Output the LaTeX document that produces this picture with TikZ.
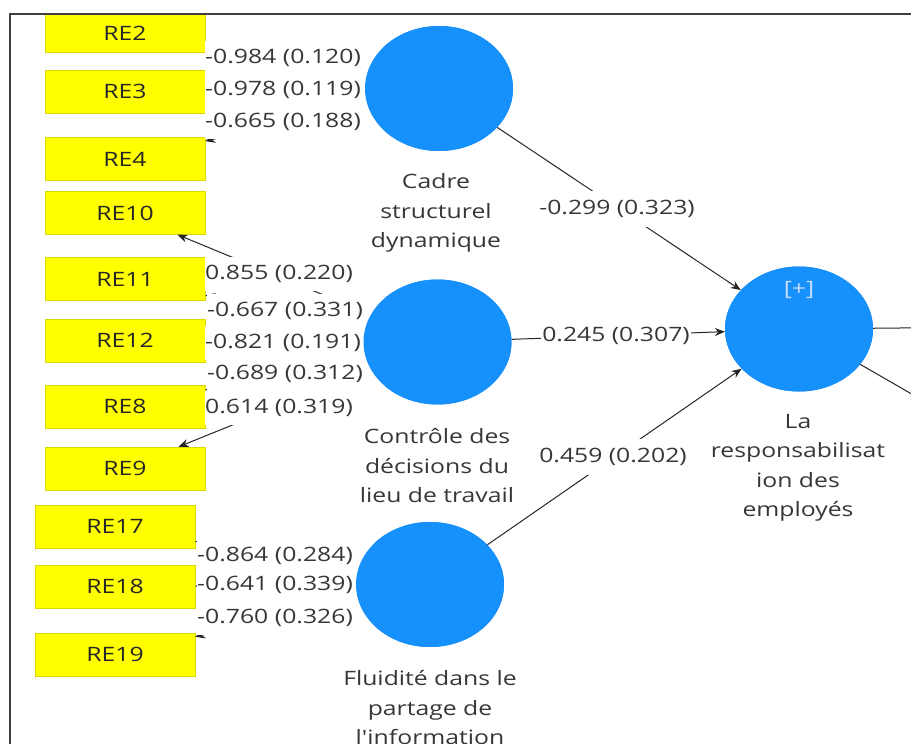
\documentclass[tikz,border=0pt]{standalone}
\usepackage{fontspec}
\setmainfont{Open Sans}[FakeStretch=1.25, Ligatures=TeXOff]
\usetikzlibrary{shapes.geometric,arrows.meta}
\definecolor{lvblue}{RGB}{22,144,250}
\definecolor{txt}{RGB}{55,55,55}
\definecolor{ybox}{RGB}{255,255,0}
\definecolor{plus}{RGB}{200,220,255}
\begin{document}
\begin{tikzpicture}[x=1pt,y=-1pt,
 every node/.style={font=\fontsize{19.8}{29.5}\selectfont},
 ind/.style={rectangle, fill=ybox, draw=ybox!85!black, line width=0.4pt, minimum width=160pt, minimum height=43pt, inner sep=0pt, text=black!85},
 lat/.style={ellipse, fill=lvblue, inner sep=0pt, minimum width=148pt, minimum height=125pt},
 ld/.style={fill=white, text=txt, inner xsep=0pt, inner ysep=8pt, anchor=west, text width=178pt, align=left},
 pl/.style={fill=white, text=txt, inner xsep=1pt, inner ysep=9pt},
 captxt/.style={text=txt, align=center},
 conn/.style={draw=black!85, line width=1pt, -{Stealth[length=10pt,width=8pt]}},
 frameline/.style={draw=black!75, line width=1.2pt},
]
\clip (0,0) rectangle (911,744);
\fill[white] (0,0) rectangle (911,744);
% indicators
\node[ind, minimum height=38pt] (re2) at (125,33) {RE2};
\node[ind] (re3) at (125,91.5) {RE3};
\node[ind] (re4) at (125,159) {RE4};
\node[ind] (re10) at (125,213) {RE10};
\node[ind] (re11) at (125,279) {RE11};
\node[ind] (re12) at (125,340.5) {RE12};
\node[ind] (re8) at (125,406.5) {RE8};
\node[ind] (re9) at (125,468.5) {RE9};
\node[ind] (re17) at (115,526.5) {RE17};
\node[ind] (re18) at (115,586.5) {RE18};
\node[ind] (re19) at (115,654.5) {RE19};
% latent variables (placed first for naming; drawn on top later)
\path (439,88.5) coordinate (pcds) (437.5,342) coordinate (pcdl) (430,584.5) coordinate (pfl) (799,329) coordinate (pre);
\node[lat] (cds) at (pcds) {};
\node[lat] (cdl) at (pcdl) {};
\node[lat] (fl) at (pfl) {};
\node[lat] (rsp) at (pre) {};
% outer connectors
\draw[conn] (cds) -- (re2);
\draw[conn] (cds) -- (re3);
\draw[conn] (cds) -- (re4);
\draw[conn] (cdl) -- (re10);
\draw[conn] (cdl) -- (re11);
\draw[conn] (cdl) -- (re12);
\draw[conn] (cdl) -- (re8);
\draw[conn] (cdl) -- (re9);
\draw[conn] (fl) -- (re17);
\draw[conn] (fl) -- (re18);
\draw[conn] (fl) -- (re19);
% inner connectors
\draw[conn] (cds) -- (rsp);
\draw[conn] (cdl) -- (rsp);
\draw[conn] (fl) -- (rsp);
\coordinate (out1) at (1000,327);
\coordinate (out2) at (1000,445);
\draw[draw=black!85, line width=1pt] (rsp) -- (out1);
\draw[draw=black!85, line width=1pt] (rsp) -- (out2);
% loadings
\node[ld] (l1) at (205,58) {-0.984 (0.120)};
\node[ld] (l2) at (205,90) {-0.978 (0.119)};
\node[ld] (l3) at (205,122) {-0.665 (0.188)};
\node[ld] (l4) at (205,274) {0.855 (0.220)};
\node[ld] (l5) at (207,311) {-0.667 (0.331)};
\node[ld] (l6) at (205,343) {-0.821 (0.191)};
\node[ld] (l7) at (207,374) {-0.689 (0.312)};
\node[ld] (l8) at (205,408) {0.614 (0.319)};
\node[ld] (l9) at (197,556) {-0.864 (0.284)};
\node[ld] (l10) at (197,585) {-0.641 (0.339)};
\node[ld] (l11) at (197,618) {-0.760 (0.326)};
% path coefficients
\node[pl] (p1) at (617,209) {-0.299 (0.323)};
\node[pl] (p2) at (616,336) {0.245 (0.307)};
\node[pl] (p3) at (613,457) {0.459 (0.202)};
% latent circles on top
\node[lat] at (pcds) {};
\node[lat] at (pcdl) {};
\node[lat] at (pfl) {};
\node[lat] at (pre) {};
\node[text=plus] (plusl) at (799,290) {[+]};
% captions
\node[captxt] (c1) at (436,213) {Cadre\\structurel\\dynamique};
\node[captxt] (c2) at (437,466) {Contrôle des\\décisions du\\lieu de travail};
\node[captxt] (c3) at (430,708) {Fluidité dans le\\partage de\\l'information};
\node[captxt] (c4) at (798,468) {La\\responsabilisat\\ion des\\employés};
% frame
\draw[frameline] (10,744) -- (10,14) -- (911,14);
\end{tikzpicture}
\end{document}
